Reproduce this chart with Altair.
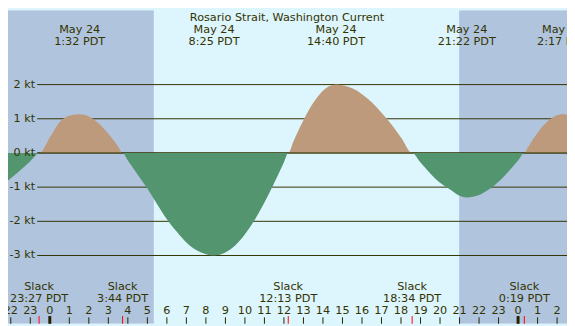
import altair as alt
import pandas as pd

# ---- overall size (whole chart, fits inside the 8px page margin) ----
W, H = 567, 318
SX, SY = W / 575, H / 326


def px(x):
    return x * SX


def py(y):
    return y * SY


FONT = "DejaVu Sans"
FS = 11.4
TXT = "#333300"
DAY = "#DDF5FD"
NIGHT = "#B0C4DE"
FLOOD = "#BC9A7B"
EBB = "#52956F"

# ---- data ----
title_text = "Rosario Strait, Washington Current"

hours = [-2.5, -2.0, -1.5, -1.0, -0.53, 0.0, 0.5, 1.0, 1.53, 2.0, 2.5, 3.0, 3.5, 3.73,
         4.0, 4.5, 5.0, 5.5, 6.0, 6.5, 7.0, 7.5, 8.0, 8.42, 9.0, 9.5, 10.0, 10.5, 11.0,
         11.5, 12.0, 12.22, 12.5, 13.0, 13.5, 14.0, 14.67, 15.0, 15.5, 16.0, 16.5, 17.0,
         17.5, 18.0, 18.57, 19.0, 19.5, 20.0, 20.5, 21.0, 21.37, 22.0, 22.5, 23.0, 23.5,
         24.0, 24.32, 24.5, 25.0, 25.5, 26.0, 26.28, 26.5, 27.0]
knots = [-0.97, -0.74, -0.50, -0.24, 0.0, 0.45, 0.90, 1.09, 1.13, 1.07, 0.87, 0.56, 0.19, 0.0,
         -0.22, -0.63, -1.04, -1.50, -1.94, -2.30, -2.62, -2.84, -2.96, -3.0, -2.91, -2.71, -2.38, -1.96, -1.45,
         -0.88, -0.27, 0.0, 0.36, 0.96, 1.46, 1.82, 2.0, 1.98, 1.89, 1.72, 1.48, 1.18,
         0.84, 0.45, 0.0, -0.28, -0.60, -0.87, -1.06, -1.25, -1.30, -1.23, -1.07, -0.84, -0.55,
         -0.22, 0.0, 0.16, 0.59, 0.92, 1.10, 1.13, 1.12, 1.04]

event_hours = [1.53, 8.42, 14.67, 21.37, 26.28]
event_dates = ["May 24", "May 24", "May 24", "May 24", "May 25"]
event_times = ["1:32 PDT", "8:25 PDT", "14:40 PDT", "21:22 PDT", "2:17 PDT"]

slack_hours = [-0.55, 3.73, 12.22, 18.57, 24.32]
slack_names = ["Slack"] * 5
slack_times = ["23:27 PDT", "3:44 PDT", "12:13 PDT", "18:34 PDT", "0:19 PDT"]

tick_hours = list(range(-2, 27))
tick_labels = [str(h % 24) for h in tick_hours]
midnight_hours = [0, 24]

night_start = [-3.0, 20.98]
night_end = [5.33, 28.0]

grid_values = [2, 1, 0, -1, -2, -3]
grid_labels = ["2 kt", "1 kt", "0 kt", "-1 kt", "-2 kt", "-3 kt"]

# ---- scales ----
X_DOMAIN = [-43 / 20.07, (575 - 43) / 20.07]
Y_DOMAIN = [(148.4 - 326) / 35.54, 148.4 / 35.54]
xs = alt.Scale(domain=X_DOMAIN, nice=False, zero=False)
ys = alt.Scale(domain=Y_DOMAIN, nice=False, zero=False)

curve = pd.DataFrame({"h": hours, "v": knots})
events = pd.DataFrame({"h": event_hours, "d": event_dates, "t": event_times})
slacks = pd.DataFrame({"h": slack_hours, "s": slack_names, "t": slack_times})
ticks = pd.DataFrame({"h": tick_hours, "lab": tick_labels})
mids = pd.DataFrame({"h": midnight_hours})
nights = pd.DataFrame({"a": night_start, "b": night_end})
grid = pd.DataFrame({"v": grid_values, "lab": grid_labels})

night_layer = alt.Chart(nights).mark_rect(color=NIGHT, clip=True).encode(
    x=alt.X("a:Q", scale=xs, axis=None), x2="b:Q",
    y=alt.value(0), y2=alt.value(H))

grid_layer = alt.Chart(grid).mark_rule(color=TXT, strokeWidth=1).encode(
    y=alt.Y("v:Q", scale=ys, axis=None),
    x=alt.value(px(30)), x2=alt.value(W))

grid_text = alt.Chart(grid).mark_text(
    align="right", baseline="middle", font=FONT, fontSize=FS, color=TXT).encode(
    y=alt.Y("v:Q", scale=ys, axis=None), x=alt.value(px(28)), text="lab:N")

base_curve = alt.Chart(curve).transform_calculate(
    pos="max(datum.v, 0)", neg="min(datum.v, 0)", zero="0")

flood = base_curve.mark_area(color=FLOOD, interpolate="monotone", clip=True).encode(
    x=alt.X("h:Q", scale=xs, axis=None),
    y=alt.Y("pos:Q", scale=ys, axis=None), y2="zero:Q")

ebb = base_curve.mark_area(color=EBB, interpolate="monotone", clip=True).encode(
    x=alt.X("h:Q", scale=xs, axis=None),
    y=alt.Y("neg:Q", scale=ys, axis=None), y2="zero:Q")

zero_line = alt.Chart(grid[grid.v == 0]).mark_rule(color=TXT, strokeWidth=1).encode(
    y=alt.Y("v:Q", scale=ys, axis=None),
    x=alt.value(px(30)), x2=alt.value(W))

txt = dict(align="center", baseline="alphabetic", font=FONT, fontSize=FS, color=TXT)

ev_date = alt.Chart(events).mark_text(**txt).encode(
    x=alt.X("h:Q", scale=xs, axis=None), y=alt.value(py(24)), text="d:N")
ev_time = alt.Chart(events).mark_text(**txt).encode(
    x=alt.X("h:Q", scale=xs, axis=None), y=alt.value(py(35.9)), text="t:N")

sl_name = alt.Chart(slacks).mark_text(**txt).encode(
    x=alt.X("h:Q", scale=xs, axis=None), y=alt.value(py(290.7)), text="s:N")
sl_time = alt.Chart(slacks).mark_text(**txt).encode(
    x=alt.X("h:Q", scale=xs, axis=None), y=alt.value(py(303.5)), text="t:N")

hour_text = alt.Chart(ticks).mark_text(**txt).encode(
    x=alt.X("h:Q", scale=xs, axis=None), y=alt.value(py(315.7)), text="lab:N")

hour_ticks = alt.Chart(ticks).mark_rule(color="#222200", strokeWidth=1).encode(
    x=alt.X("h:Q", scale=xs, axis=None), y=alt.value(py(319.3)), y2=alt.value(H))
mid_ticks = alt.Chart(mids).mark_rule(color="#222200", strokeWidth=3).encode(
    x=alt.X("h:Q", scale=xs, axis=None), y=alt.value(py(318)), y2=alt.value(H))
slack_ticks = alt.Chart(slacks).mark_rule(color="#FF0000", strokeWidth=1).encode(
    x=alt.X("h:Q", scale=xs, axis=None), y=alt.value(py(318)), y2=alt.value(H))

title_layer = alt.Chart(pd.DataFrame({"t": [title_text]})).mark_text(**txt).encode(
    x=alt.value(px(287)), y=alt.value(py(11.7)), text="t:N")

chart = alt.layer(
    night_layer, grid_layer, flood, zero_line, ebb, grid_text,
    ev_date, ev_time, sl_name, sl_time, hour_text,
    hour_ticks, mid_ticks, slack_ticks, title_layer,
).properties(
    width=W, height=H, padding=0,
    autosize=alt.AutoSizeParams(type="none"),
    background=DAY,
).configure_view(stroke=None)

chart.save("out.html", embed_options={"renderer": "svg", "actions": False})
